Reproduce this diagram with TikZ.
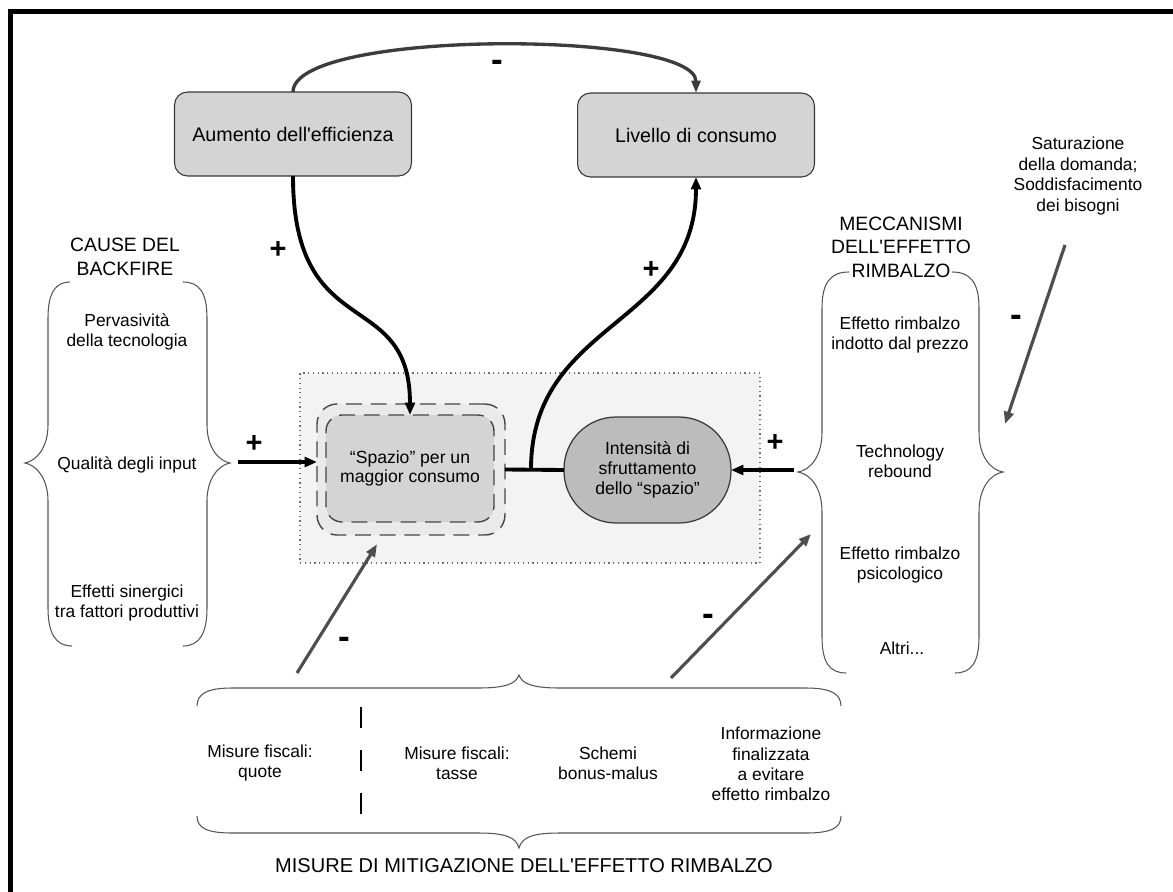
\documentclass[tikz,border=0pt]{standalone}
\usepackage{fontspec}
\newfontfamily\arialfont{Liberation Sans}
\usetikzlibrary{arrows.meta,calc}

\definecolor{boxfill}{RGB}{212,212,212}
\definecolor{boxline}{RGB}{55,55,55}
\definecolor{halofill}{RGB}{234,234,234}
\definecolor{panelfill}{RGB}{243,243,243}
\definecolor{panelline}{RGB}{110,110,110}
\definecolor{dashline}{RGB}{70,70,70}
\definecolor{intensfill}{RGB}{188,188,188}
\definecolor{arrowgray}{RGB}{78,78,78}
\definecolor{arcgray}{RGB}{60,60,60}
\definecolor{braceline}{RGB}{85,85,85}

\tikzset{
  boxlabel/.style={draw=boxline, fill=boxfill, line width=0.6pt, rounded corners=0.26cm,
    minimum width=4.74cm, minimum height=1.68cm, outer sep=0pt,
    font=\arialfont\fontsize{11.2}{13}\selectfont},
  panelbox/.style={draw=panelline, fill=panelfill, dotted, line width=0.7pt,
    minimum width=9.2cm, minimum height=3.8cm, outer sep=0pt},
  halobox/.style={draw=dashline, fill=halofill, dash pattern=on 9pt off 5pt, line width=0.8pt,
    rounded corners=0.4cm, minimum width=3.76cm, minimum height=2.62cm, outer sep=0pt},
  spacebox/.style={draw=dashline, fill=boxfill, dash pattern=on 9pt off 5pt, line width=0.8pt,
    rounded corners=0.32cm, minimum width=3.36cm, minimum height=2.14cm, outer sep=0pt,
    align=center, font=\arialfont\fontsize{10}{11}\selectfont},
  intensbox/.style={draw=boxline, fill=intensfill, line width=0.7pt, rounded corners=1.04cm,
    minimum width=3.34cm, minimum height=2.12cm, outer sep=0pt,
    align=center, font=\arialfont\fontsize{10}{11.3}\selectfont},
  sidetext/.style={align=center, inner sep=0pt, font=\arialfont\fontsize{9.9}{11.6}\selectfont},
  headtext/.style={align=center, inner sep=0pt, font=\arialfont\fontsize{11}{13.3}\selectfont},
  titletext/.style={inner sep=0pt, font=\arialfont\fontsize{11.4}{13.3}\selectfont},
  plusmark/.style={inner sep=0pt, font=\arialfont\fontsize{16.5}{16.5}\selectfont\bfseries},
  minusmark/.style={inner sep=0pt, font=\arialfont\fontsize{20}{20}\selectfont\bfseries},
  causal/.style={line width=2.2pt, -{Triangle[length=7pt,width=5.5pt]}},
  damper/.style={draw=arrowgray, line width=1.8pt, -{Triangle[length=7pt,width=5.5pt]}},
  bracket/.style={draw=braceline, line width=0.6pt},
}

\begin{document}
\arialfont
\begin{tikzpicture}[x=0.02cm,y=-0.02cm]
  \useasboundingbox (0,0) rectangle (1173,892);
  \draw[line width=0.1cm] (10.5,892) -- (10.5,11.5) -- (1173,11.5);

  % centre panel and the boxes
  \node[panelbox] (panel) at (530,468) {};
  \draw
    (293,134) node[boxlabel] (aumento){Aumento dell'efficienza}
    (696,135) node[boxlabel] (livello){Livello di consumo}
    (411,469.5) node[halobox] (halo){}
    (410,468.5) node[spacebox] (spazio){“Spazio” per un\\maggior consumo}
    (647.5,470) node[intensbox] (intens){Intensità di\\sfruttamento\\dello “spazio”};

  % free ends
  \coordinate (junc) at (531,469.5);
  \coordinate (causeout) at (238,462);
  \coordinate (meccout) at (794,470);
  \coordinate (mitA) at (297,673);
  \coordinate (mitB) at (671,678);
  \coordinate (meccin) at (811,534);
  \coordinate (satA) at (1065,245);
  \coordinate (satB) at (1005,424);

  % groups of causes
  \node[headtext] (causehead) at (125,257) {CAUSE DEL\\BACKFIRE};
  \node[sidetext] (cause1) at (127,332) {Pervasività\\della tecnologia};
  \node[sidetext] (cause2) at (127,465) {Qualità degli input};
  \node[sidetext] (cause3) at (127,603) {Effetti sinergici\\tra fattori produttivi};
  \draw[bracket] (70,282) .. controls (56,282) and (48,292) .. (48,318) -- (48,425)
    .. controls (48,448) and (36,461) .. (25,463) .. controls (36,465) and (48,478) .. (48,501)
    -- (48,608) .. controls (48,634) and (56,646) .. (72,646);
  \draw[bracket] (183,282) .. controls (199,282) and (207,292) .. (207,318) -- (207,425)
    .. controls (207,448) and (219,461) .. (230,463) .. controls (219,465) and (207,478) .. (207,501)
    -- (207,608) .. controls (207,634) and (199,646) .. (183,646);

  \node[headtext] (mecchead) at (901,247) {MECCANISMI\\DELL'EFFETTO\\RIMBALZO};
  \node[sidetext] (mecc1) at (900,335) {Effetto rimbalzo\\indotto dal prezzo};
  \node[sidetext] (mecc2) at (900,461) {Technology\\rebound};
  \node[sidetext] (mecc3) at (900,565) {Effetto rimbalzo\\psicologico};
  \node[sidetext] (mecc4) at (902,648) {Altri...};
  \draw[bracket] (849,272) .. controls (831,272) and (822,282) .. (822,308) -- (822,432)
    .. controls (822,457) and (810,470) .. (798,472) .. controls (810,474) and (822,487) .. (822,512)
    -- (822,637) .. controls (822,663) and (830,673) .. (846,673);
  \draw[bracket] (952,272) .. controls (970,272) and (979,282) .. (979,308) -- (979,432)
    .. controls (979,457) and (991,470) .. (1003,472) .. controls (991,474) and (979,487) .. (979,512)
    -- (979,637) .. controls (979,663) and (971,673) .. (955,673);

  \node[sidetext] (satur) at (1078,176) {Saturazione\\della domanda;\\Soddisfacimento\\dei bisogni};

  % mitigation measures
  \node[sidetext] (mis1) at (260,763) {Misure fiscali:\\quote};
  \node[sidetext] (mis2) at (457,763) {Misure fiscali:\\tasse};
  \node[sidetext] (mis3) at (608,763) {Schemi\\bonus-malus};
  \node[sidetext] (mis4) at (771,764) {Informazione\\finalizzata\\a evitare\\effetto rimbalzo};
  \node[titletext] (mishead) at (524,866) {MISURE DI MITIGAZIONE DELL'EFFETTO RIMBALZO};
  \draw[line width=1.2pt, dash pattern=on 12pt off 12.5pt] (361,707) -- (361,816);
  \draw[bracket] (197,706) .. controls (197,694) and (207,688) .. (232,688) -- (478,688)
    .. controls (505,688) and (516,684) .. (519,675) .. controls (522,684) and (533,688) .. (560,688)
    -- (806,688) .. controls (831,688) and (841,694) .. (841,706);
  \draw[bracket] (197,816) .. controls (197,828) and (207,833) .. (232,833) -- (478,833)
    .. controls (505,833) and (516,837) .. (519,848) .. controls (522,837) and (533,833) .. (560,833)
    -- (806,833) .. controls (831,833) and (841,828) .. (841,816);

  % links
  \draw[draw=arcgray, line width=1.9pt, -{Triangle[length=7pt,width=5pt]}]
    (aumento.north) .. controls +(0,-63) and +(0,-63) .. (livello.north);
  \node[minusmark] at (497,66) {-};
  \draw[causal] (aumento.south) .. controls +(0,170) and +(0,-130) .. (spazio.north);
  \node[plusmark] at (278,250) {+};
  \draw[line width=2.2pt] (halo.east) -- (intens.west);
  \draw[causal] (junc) .. controls +(0,-150) and +(0,150) .. (livello.south);
  \node[plusmark] at (651,270) {+};
  \draw[causal] (causeout) -- (causeout -| halo.west);
  \node[plusmark] at (254,444) {+};
  \draw[causal] (meccout) -- (meccout -| intens.east);
  \node[plusmark] at (775,443) {+};
  \draw[damper, shorten >=0.22cm] (mitA) -- ($(halo.south west)!0.35!(halo.south east)$);
  \node[minusmark] at (344,643) {-};
  \draw[damper] (mitB) -- (meccin);
  \node[minusmark] at (708,620) {-};
  \draw[damper] (satA) -- (satB);
  \node[minusmark] at (1016,321) {-};
\end{tikzpicture}
\end{document}
